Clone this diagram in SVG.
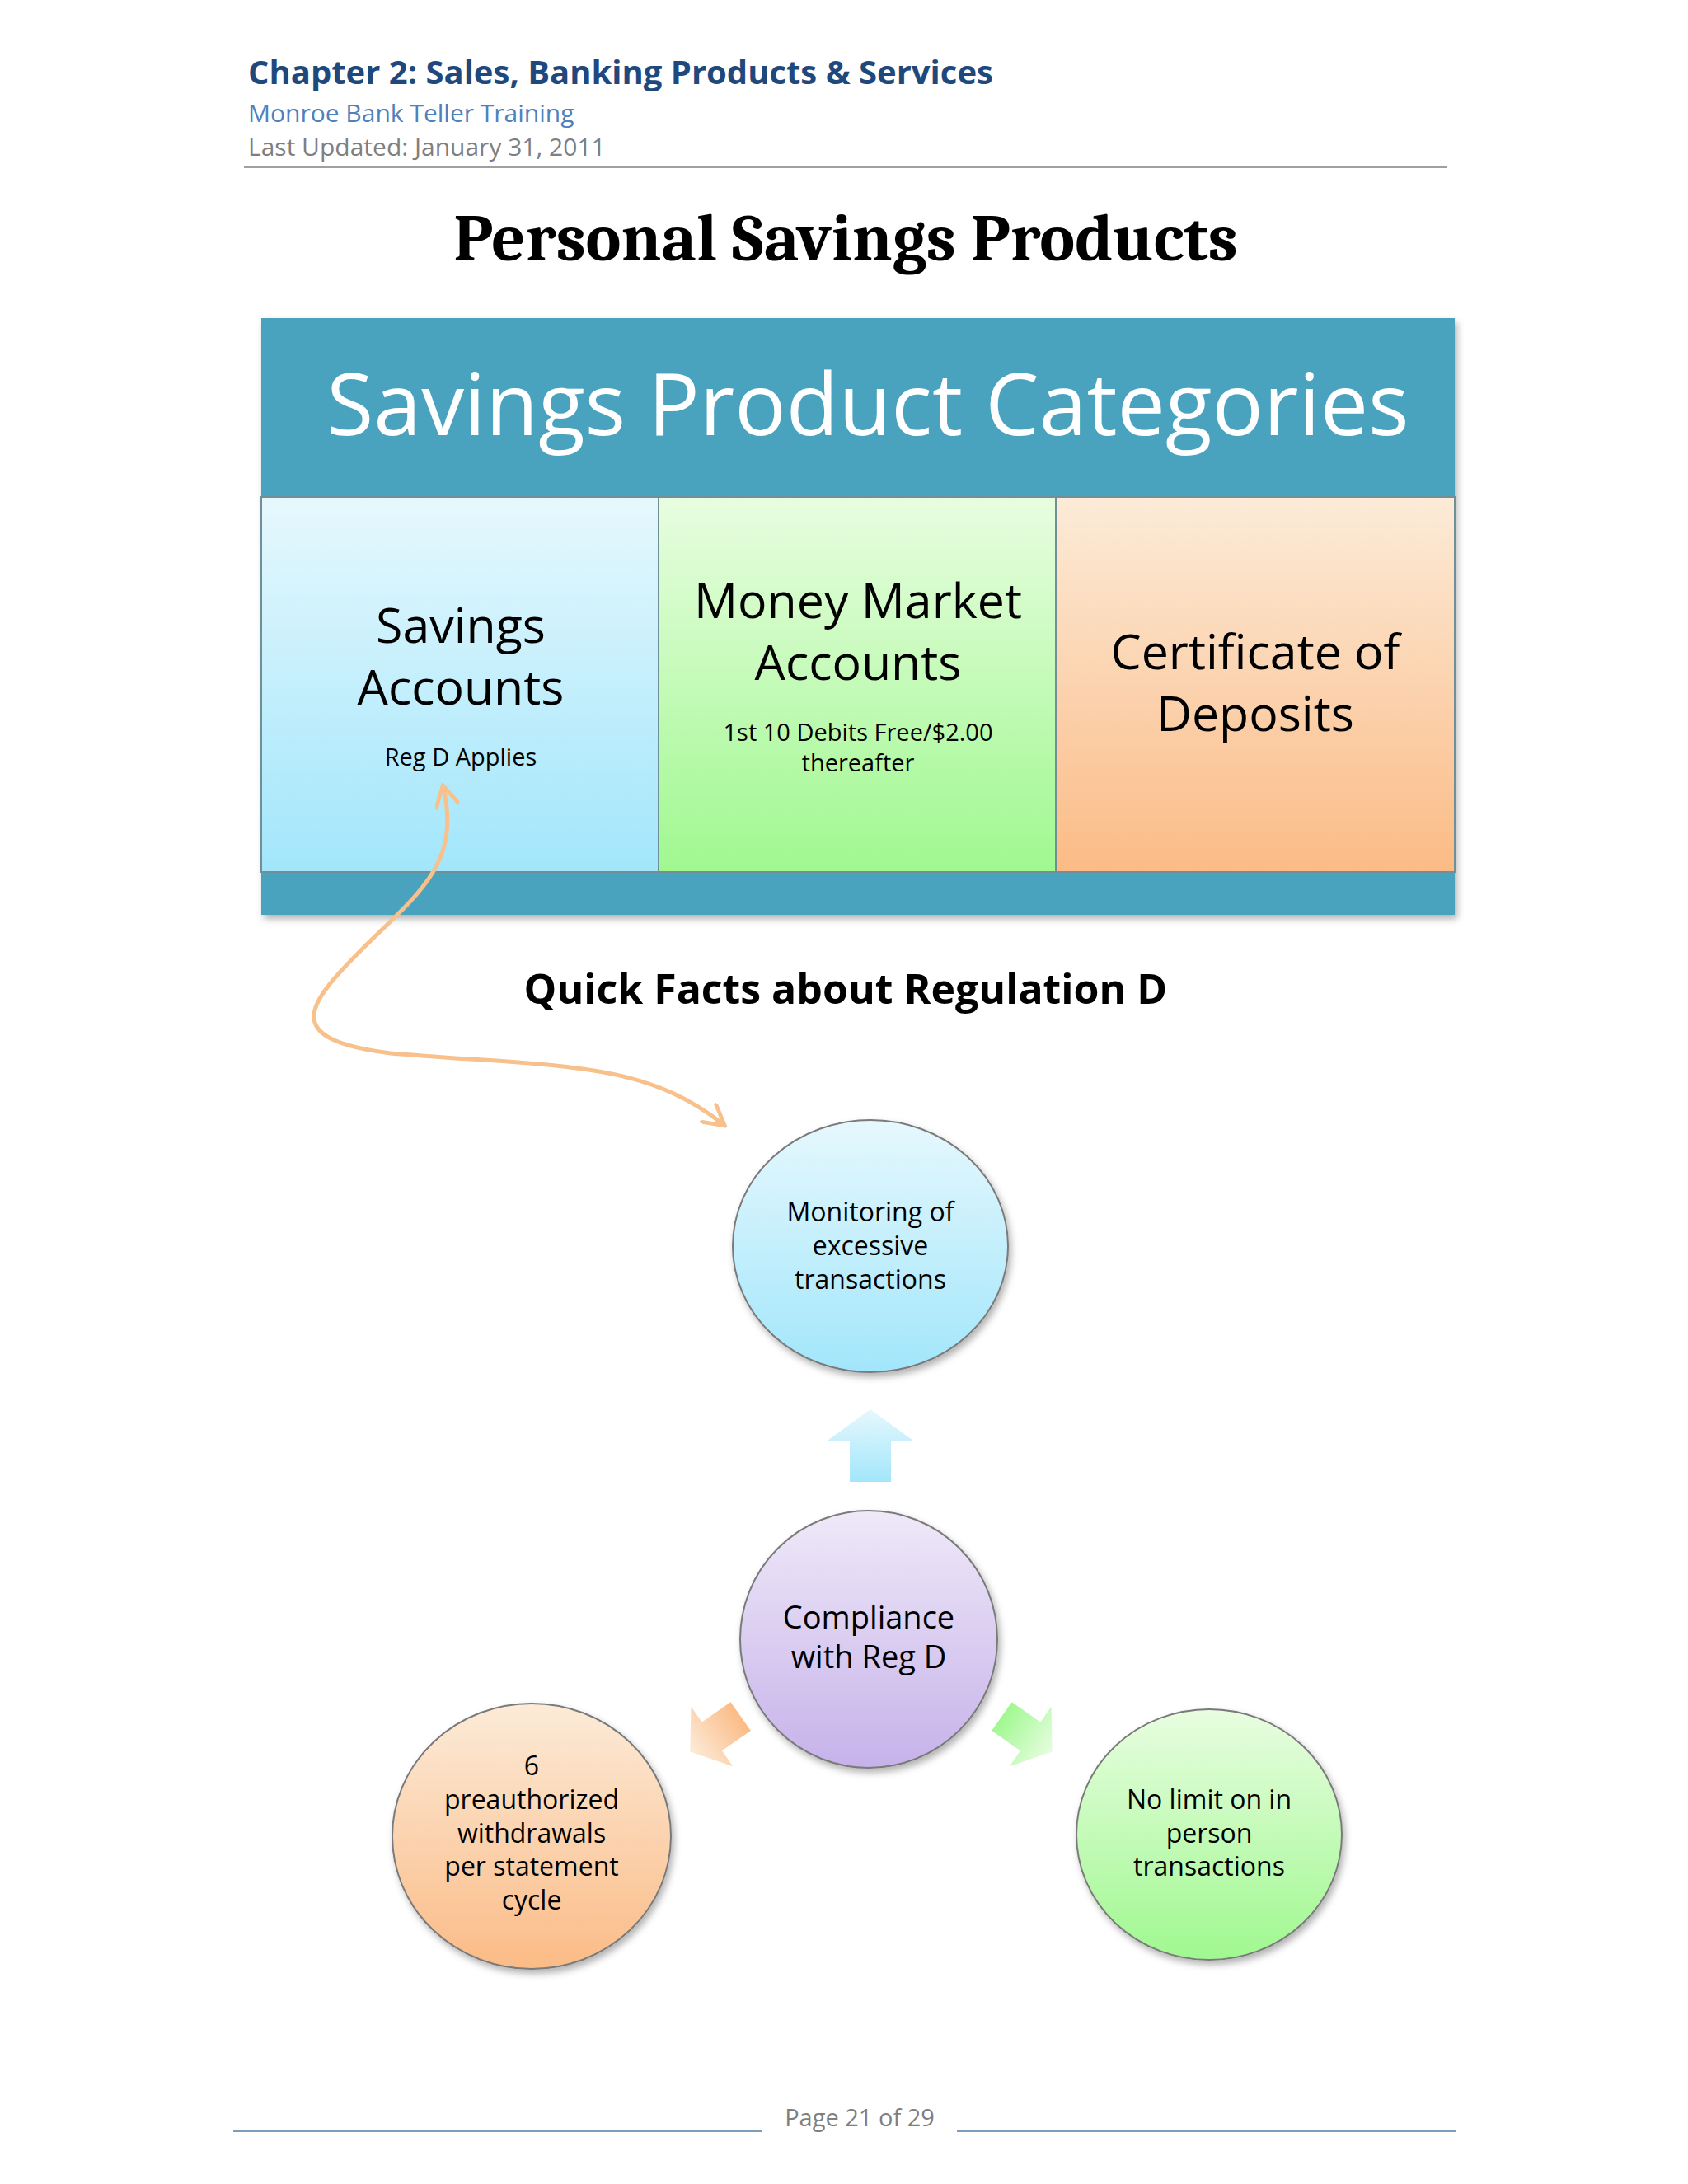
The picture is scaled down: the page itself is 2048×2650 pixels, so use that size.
<svg xmlns="http://www.w3.org/2000/svg" width="2048" height="2650" viewBox="0 0 2048 2650">
<defs>
<linearGradient id="gBlue" x1="0" y1="0" x2="0" y2="1"><stop offset="0" stop-color="#e6f8fd"/><stop offset="1" stop-color="#a2e6fb"/></linearGradient>
<linearGradient id="gGreen" x1="0" y1="0" x2="0" y2="1"><stop offset="0" stop-color="#e8fde0"/><stop offset="1" stop-color="#a0f890"/></linearGradient>
<linearGradient id="gOrange" x1="0" y1="0" x2="0" y2="1"><stop offset="0" stop-color="#fcebd8"/><stop offset="1" stop-color="#fbbb86"/></linearGradient>
<linearGradient id="gPurple" x1="0" y1="0" x2="0" y2="1"><stop offset="0" stop-color="#efe9f8"/><stop offset="1" stop-color="#c6b2ea"/></linearGradient>
<filter id="sh" x="-20%" y="-20%" width="140%" height="140%"><feDropShadow dx="3" dy="5" stdDeviation="4" flood-color="#000" flood-opacity="0.3"/></filter>
<marker id="ah" viewBox="0 0 10 10" refX="8" refY="5" markerWidth="6" markerHeight="6" orient="auto-start-reverse" markerUnits="strokeWidth"><path d="M0,0 L9,5 L0,10" fill="none" stroke="#f8c08a" stroke-width="1.6"/></marker>
<path id="blk" d="M0,-44 L52,-6 L25,-6 L25,44 L-25,44 L-25,-6 L-52,-6 Z"/>
</defs>
<style>
.s{font-family:"Open Sans","Liberation Sans",sans-serif;text-anchor:middle;fill:#000}
.hd{font-family:"Open Sans","Liberation Sans",sans-serif}
.c{stroke:#7a7a7a;stroke-width:2}
</style>
<rect width="2048" height="2650" fill="#fff"/>
<g id="header">
<text class="hd" x="301" y="102" font-size="40" font-weight="bold" fill="#1f497d">Chapter 2: Sales, Banking Products &amp; Services</text>
<text class="hd" x="301" y="148" font-size="30" fill="#4f81bd">Monroe Bank Teller Training</text>
<text class="hd" x="301" y="189" font-size="30" fill="#7f7f7f">Last Updated:  January 31, 2011</text>
<line x1="296" y1="203" x2="1755" y2="203" stroke="#a0a0a0" stroke-width="2"/>
<text x="1026" y="316" font-size="81" font-weight="bold" font-family="Cambria,'Liberation Serif',serif" text-anchor="middle">Personal Savings Products</text>
</g>
<g id="categories">
<rect x="317" y="386" width="1448" height="724" fill="#4aa3bf" filter="url(#sh)"/>
<text x="1053" y="528" font-size="104" class="s" style="fill:#fff">Savings Product Categories</text>
<rect x="317" y="603" width="482" height="455" fill="url(#gBlue)" stroke="#6f8f99" stroke-width="2"/>
<rect x="799" y="603" width="482" height="455" fill="url(#gGreen)" stroke="#6f8f99" stroke-width="2"/>
<rect x="1281" y="603" width="484" height="455" fill="url(#gOrange)" stroke="#6f8f99" stroke-width="2"/>
<text class="s" font-size="59"><tspan x="559" y="780">Savings</tspan><tspan x="559" y="855">Accounts</tspan></text>
<text class="s" x="559" y="929" font-size="29">Reg D Applies</text>
<text class="s" font-size="59"><tspan x="1041" y="750">Money Market</tspan><tspan x="1041" y="825">Accounts</tspan></text>
<text class="s" font-size="29"><tspan x="1041" y="899">1st 10 Debits Free/$2.00</tspan><tspan x="1041" y="936">thereafter</tspan></text>
<text class="s" font-size="59"><tspan x="1523" y="812">Certificate of</tspan><tspan x="1523" y="887">Deposits</tspan></text>
</g>
<text class="s" x="1026" y="1218" font-size="50" font-weight="bold">Quick Facts about Regulation D</text>
<g id="connectors">
<path d="M538,956 C559,1049 508,1083 440,1151 C372,1219 339,1261 474,1278 C677,1295 779,1286 877,1364" fill="none" stroke="#f8c08a" stroke-width="5" marker-start="url(#ah)" marker-end="url(#ah)"/>
<use href="#blk" transform="translate(1056,1754)" fill="url(#gBlue)"/>
<use href="#blk" transform="translate(868,2104) rotate(-125) scale(0.85)" fill="url(#gOrange)"/>
<use href="#blk" transform="translate(1246,2104) rotate(125) scale(0.85)" fill="url(#gGreen)"/>
</g>
<g id="monitoring">
<ellipse class="c" cx="1056" cy="1512" rx="167" ry="153" fill="url(#gBlue)" filter="url(#sh)"/>
<text class="s" font-size="32"><tspan x="1056" y="1482">Monitoring of</tspan><tspan x="1056" y="1523">excessive</tspan><tspan x="1056" y="1564">transactions</tspan></text>
</g>
<g id="compliance">
<ellipse class="c" cx="1054" cy="1989" rx="156" ry="156" fill="url(#gPurple)" filter="url(#sh)"/>
<text class="s" font-size="38"><tspan x="1054" y="1976">Compliance</tspan><tspan x="1054" y="2024">with Reg D</tspan></text>
</g>
<g id="preauth">
<ellipse class="c" cx="645" cy="2228" rx="169" ry="161" fill="url(#gOrange)" filter="url(#sh)"/>
<text class="s" font-size="32"><tspan x="645" y="2154">6</tspan><tspan x="645" y="2195">preauthorized</tspan><tspan x="645" y="2236">withdrawals</tspan><tspan x="645" y="2276">per statement</tspan><tspan x="645" y="2317">cycle</tspan></text>
</g>
<g id="nolimit">
<ellipse class="c" cx="1467" cy="2226" rx="161" ry="152" fill="url(#gGreen)" filter="url(#sh)"/>
<text class="s" font-size="32"><tspan x="1467" y="2195">No limit on in</tspan><tspan x="1467" y="2236">person</tspan><tspan x="1467" y="2276">transactions</tspan></text>
</g>
<g id="footer">
<text class="hd" x="1043" y="2580" font-size="29" fill="#7f7f7f" text-anchor="middle">Page 21 of 29</text>
<line x1="283" y1="2586" x2="924" y2="2586" stroke="#7d9bbf" stroke-width="2"/>
<line x1="1161" y1="2586" x2="1767" y2="2586" stroke="#7d9bbf" stroke-width="2"/>
</g>
</svg>
